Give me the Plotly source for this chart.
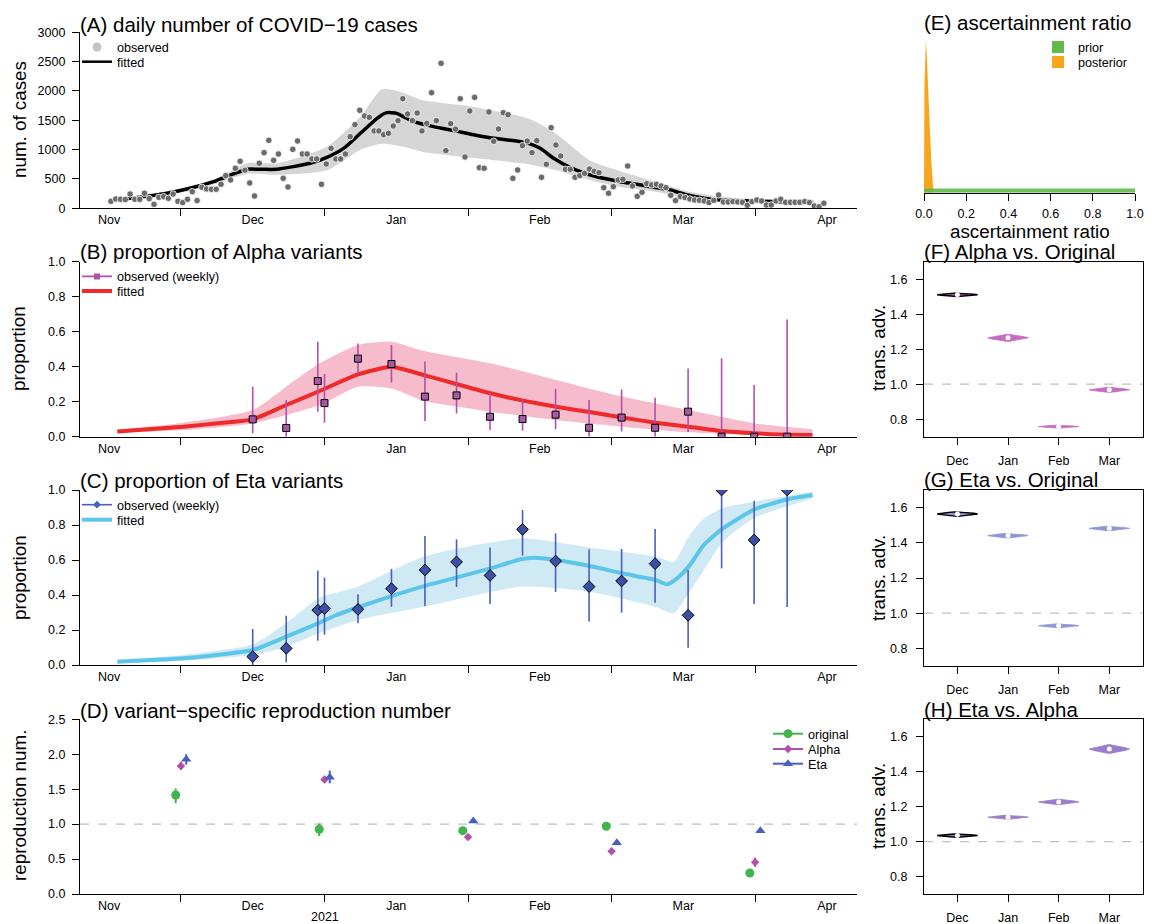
import plotly.graph_objects as go

W, H = 1155, 924
FONT = "Liberation Sans, Arial, sans-serif"

# ---------------- shared time axis (days) ----------------
month_labels = ["Nov", "Dec", "Jan", "Feb", "Mar", "Apr"]
month_label_days = [0, 30, 60, 90, 120, 150]
month_tick_days = [15, 45, 75, 105, 135]

# ---------------- (A) daily cases ----------------
case_first_day = 0.37
obs_cases = [
    119, 159, 153, 150, 244, 153, 153, 256, 165, 68,
    187, 199, 170, 244, 119, 97, 153, 284, 131, 358,
    330, 324, 324, 409, 557, 483, 682, 801, 650, 432,
    210, 767, 949, 1159, 818, 926, 511, 364, 1005, 1147,
    926, 926, 841, 841, 409, 755, 1022, 841, 841, 926,
    1221, 1426, 1670, 1573, 1551, 1318, 1318, 1255, 1278, 1403,
    1494, 1869, 1607, 1494, 1624, 1318, 1448, 1971, 1494, 2471,
    983, 1443, 1350, 1869, 875, 1659, 1891, 693, 682, 1642,
    1142, 1352, 1630, 1596, 511, 653, 1068, 1147, 949, 1153,
    528, 750, 1375, 1079, 892, 665, 665, 528, 557, 596,
    670, 630, 608, 352, 256, 369, 483, 494, 721, 381,
    204, 273, 420, 398, 409, 380, 352, 222, 131, 199,
    182, 159, 142, 136, 125, 97, 136, 227, 108, 108,
    114, 108, 102, 51, 114, 142, 125, 57, 57, 125,
    153, 102, 102, 102, 102, 114, 97, 40, 28, 85,
]
fit_days_a = [1.6, 7.2, 12.1, 16.9, 21.8, 26, 28.8, 31.6, 35, 38.5, 42, 45.5, 49, 52.5,
              56, 58, 60.1, 61.5, 63.6, 67.8, 72, 79, 86, 87.3, 90.1, 92.9, 96.4, 99.9,
              103.3, 106.8, 110.3, 113.8, 117.3, 120.8, 124.3, 127.7, 134.7, 141.7, 146.9]
fit_cases = [142, 199, 256, 341, 454, 585, 665, 665, 665, 710, 767, 869, 1022, 1278,
             1534, 1630, 1619, 1562, 1477, 1392, 1324, 1210, 1136, 1115, 1022, 852, 693, 585,
             511, 454, 409, 358, 312, 227, 170, 142, 125, 108, 97]
band_days_a = [1.6, 12, 22, 28.8, 35, 45.5, 52.5, 57, 60.8, 65.4, 75.9, 86.3, 88.4, 93.3,
               100.3, 107.2, 114.2, 121.2, 128.1, 135.1, 147.3]
band_hi_a = [165, 285, 490, 767, 767, 1051, 1562, 2028, 1988, 1846, 1732, 1562, 1505, 1278,
             824, 625, 454, 284, 199, 159, 142]
band_lo_a = [125, 230, 410, 590, 570, 650, 1000, 1100, 1060, 966, 860, 767, 740, 653,
             483, 358, 284, 170, 114, 85, 74]

# ---------------- (B)/(C) weekly variant proportions ----------------
week_days = [30, 37, 43.6, 45, 52, 59, 66, 72.6, 79.6, 86.4, 93.3, 100.3, 107.1, 114.1,
             121, 128, 134.8, 141.7]
alpha_obs = [0.099, 0.05, 0.318, 0.192, 0.446, 0.415, 0.229, 0.236, 0.114, 0.101, 0.126,
             0.051, 0.109, 0.051, 0.143, 0.0, 0.0, 0.0]
alpha_lo = [0.019, 0.0, 0.143, 0.08, 0.358, 0.309, 0.09, 0.133, 0.038, 0.034, 0.042,
            0.0, 0.029, 0.0, 0.027, 0.0, 0.0, 0.0]
alpha_hi = [0.286, 0.21, 0.543, 0.358, 0.533, 0.524, 0.43, 0.366, 0.248, 0.21, 0.272,
            0.21, 0.27, 0.223, 0.389, 0.448, 0.295, 0.67]
eta_obs = [0.048, 0.095, 0.314, 0.322, 0.318, 0.436, 0.543, 0.589, 0.512, 0.775, 0.594,
           0.448, 0.48, 0.579, 0.284, 1.0, 0.714, 1.0]
eta_lo = [0.0, 0.015, 0.139, 0.173, 0.238, 0.333, 0.337, 0.446, 0.349, 0.625, 0.417,
          0.248, 0.299, 0.356, 0.099, 0.552, 0.349, 0.331]
eta_hi = [0.206, 0.282, 0.539, 0.499, 0.404, 0.549, 0.737, 0.718, 0.672, 0.886, 0.752,
          0.661, 0.663, 0.777, 0.543, 1.0, 0.939, 1.0]

fit_days_b = [1.7, 15.5, 22.3, 30, 37, 44, 48, 52, 59, 65.8, 72.7, 79.7, 86.5, 93.4,
              100.4, 107.2, 114.2, 121.1, 128, 134.9, 141.8, 147]
alpha_fit = [0.03, 0.057, 0.076, 0.099, 0.181, 0.261, 0.31, 0.356, 0.4, 0.352, 0.30, 0.248,
             0.206, 0.171, 0.141, 0.11, 0.08, 0.057, 0.032, 0.019, 0.011, 0.01]
band_days_b = [1.7, 15.5, 30, 37, 44, 52, 59, 65.8, 79.7, 93.4, 107.2, 121.1, 134.9, 147]
alpha_band_hi = [0.04, 0.08, 0.152, 0.286, 0.419, 0.524, 0.543, 0.49, 0.419, 0.324, 0.229,
                 0.152, 0.076, 0.042]
alpha_band_lo = [0.022, 0.038, 0.076, 0.124, 0.181, 0.286, 0.276, 0.205, 0.143, 0.095,
                 0.057, 0.025, 0.01, 0.006]

fit_days_c = [1.7, 15.5, 30, 37, 44, 47, 52, 59, 65.8, 72.7, 79.7, 86, 88.8, 93.4, 100.4,
              107.2, 114.2, 116.6, 118.7, 121.1, 124.3, 128, 134.9, 141.8, 147]
eta_fit = [0.019, 0.038, 0.086, 0.162, 0.242, 0.28, 0.33, 0.394, 0.451, 0.501, 0.552, 0.604,
           0.613, 0.6, 0.566, 0.524, 0.486, 0.461, 0.495, 0.562, 0.686, 0.775, 0.89, 0.947, 0.971]
band_days_c = [1.7, 15.5, 30, 37, 43.8, 52, 65.8, 86.3, 100.3, 114.2, 118, 121.1, 124.3,
               128, 134.7, 147]
eta_band_hi = [0.03, 0.057, 0.118, 0.238, 0.381, 0.448, 0.62, 0.724, 0.672, 0.62, 0.59,
               0.733, 0.838, 0.895, 0.933, 0.99]
eta_band_lo = [0.012, 0.025, 0.057, 0.105, 0.181, 0.257, 0.333, 0.448, 0.419, 0.333, 0.295,
               0.41, 0.543, 0.695, 0.838, 0.952]

# ---------------- (D) reproduction numbers ----------------
r_days = [15, 45, 75, 105, 135]
r_orig = [1.417, 0.926, 0.906, 0.969, 0.30]
r_orig_lo = [1.30, 0.83, 0.87, 0.94, 0.28]
r_orig_hi = [1.51, 1.01, 0.94, 1.0, 0.32]
r_alpha = [1.832, 1.64, 0.816, 0.611, 0.453]
r_alpha_lo = [1.775, 1.59, 0.79, 0.59, 0.39]
r_alpha_hi = [1.894, 1.69, 0.84, 0.63, 0.52]
r_eta = [1.93, 1.67, 1.045, 0.735, 0.906]
r_eta_lo = [1.85, 1.584, 1.02, 0.71, 0.88]
r_eta_hi = [2.0, 1.765, 1.07, 0.76, 0.93]

# ---------------- (E) ascertainment ratio ----------------
prior_x = [0.0, 1.0]
prior_density = [1.0, 1.0]
post_x = [0.0, 0.002, 0.009, 0.015, 0.025, 0.035, 0.045]
post_density = [0.0, 25.0, 35.7, 30.0, 18.0, 7.0, 0.0]

# ---------------- (F)-(H) transmission advantage ----------------
adv_months = ["Dec", "Jan", "Feb", "Mar"]
adv_alpha_orig = [1.511, 1.265, 0.758, 0.968]
adv_alpha_orig_spread = [0.010, 0.021, 0.009, 0.015]
adv_eta_orig = [1.564, 1.441, 0.929, 1.482]
adv_eta_orig_spread = [0.014, 0.014, 0.012, 0.014]
adv_eta_alpha = [1.035, 1.140, 1.227, 1.530]
adv_eta_alpha_spread = [0.010, 0.012, 0.016, 0.026]

# ---------------- styling ----------------
C_GREEN = "#41b54b"
C_MAG = "#b44fab"
C_BLUE = "#4a5ec0"
C_RED = "#ee2a2a"
C_SKY = "#5cc6ea"


def px_x(p):
    return p / W


def px_y(p):
    return 1 - p / H


def dom_x(a, b):
    return [a / W, b / W]


def dom_y(top, bottom):
    return [1 - bottom / H, 1 - top / H]


fig = go.Figure()


def band(xs, lo, hi, color, xa, ya):
    fig.add_trace(go.Scatter(x=xs, y=lo, mode="lines", line=dict(width=0, shape="spline", smoothing=0.6),
                             showlegend=False, hoverinfo="skip", xaxis=xa, yaxis=ya))
    fig.add_trace(go.Scatter(x=xs, y=hi, mode="lines", line=dict(width=0, shape="spline", smoothing=0.6),
                             fill="tonexty", fillcolor=color, showlegend=False, hoverinfo="skip",
                             xaxis=xa, yaxis=ya))


def err(v, lo, hi):
    return dict(type="data", symmetric=False,
                array=[h - a for a, h in zip(v, hi)],
                arrayminus=[a - l for a, l in zip(v, lo)])


# ---- (A)
band(band_days_a, band_lo_a, band_hi_a, "#d5d5d5", "x", "y")
fig.add_trace(go.Scatter(x=fit_days_a, y=fit_cases, mode="lines",
                         line=dict(color="black", width=3.5, shape="spline", smoothing=0.6),
                         showlegend=False, xaxis="x", yaxis="y"))
fig.add_trace(go.Scatter(x=[case_first_day + i for i in range(len(obs_cases))], y=obs_cases,
                         mode="markers", marker=dict(size=6.5, color="#6b6b6b",
                                                     line=dict(color="white", width=0.8)),
                         showlegend=False, xaxis="x", yaxis="y"))
fig.add_trace(go.Scatter(x=[None], y=[None], mode="markers", name="observed",
                         marker=dict(size=9, color="#c4c4c4"), legend="legend", xaxis="x", yaxis="y"))
fig.add_trace(go.Scatter(x=[None], y=[None], mode="lines", name="fitted",
                         line=dict(color="black", width=2.5), legend="legend2", xaxis="x", yaxis="y"))

# ---- (B)
band(band_days_b, alpha_band_lo, alpha_band_hi, "#f6bccb", "x2", "y2")
fig.add_trace(go.Scatter(x=fit_days_b, y=alpha_fit, mode="lines",
                         line=dict(color=C_RED, width=4, shape="spline", smoothing=0.5),
                         showlegend=False, xaxis="x2", yaxis="y2"))
fig.add_trace(go.Scatter(x=week_days, y=alpha_obs, mode="markers",
                         marker=dict(symbol="square", size=7, color="#a45aa5",
                                     line=dict(color="black", width=1)),
                         error_y=dict(err(alpha_obs, alpha_lo, alpha_hi), color=C_MAG, thickness=1.6, width=0),
                         showlegend=False, xaxis="x2", yaxis="y2"))
fig.add_trace(go.Scatter(x=[None], y=[None], mode="lines+markers", name="observed (weekly)",
                         line=dict(color=C_MAG, width=1.6),
                         marker=dict(symbol="square", size=6, color=C_MAG),
                         legend="legend3", xaxis="x2", yaxis="y2"))
fig.add_trace(go.Scatter(x=[None], y=[None], mode="lines", name="fitted",
                         line=dict(color=C_RED, width=4), legend="legend4", xaxis="x2", yaxis="y2"))

# ---- (C)
band(band_days_c, eta_band_lo, eta_band_hi, "#cfe9f5", "x3", "y3")
fig.add_trace(go.Scatter(x=fit_days_c, y=eta_fit, mode="lines",
                         line=dict(color=C_SKY, width=4, shape="spline", smoothing=0.5),
                         showlegend=False, xaxis="x3", yaxis="y3"))
fig.add_trace(go.Scatter(x=week_days, y=eta_obs, mode="markers",
                         marker=dict(symbol="diamond", size=9, color="#3b4fa6",
                                     line=dict(color="black", width=1)),
                         error_y=dict(err(eta_obs, eta_lo, eta_hi), color=C_BLUE, thickness=1.6, width=0),
                         showlegend=False, xaxis="x3", yaxis="y3"))
fig.add_trace(go.Scatter(x=[None], y=[None], mode="lines+markers", name="observed (weekly)",
                         line=dict(color=C_BLUE, width=1.6),
                         marker=dict(symbol="diamond", size=6, color=C_BLUE),
                         legend="legend5", xaxis="x3", yaxis="y3"))
fig.add_trace(go.Scatter(x=[None], y=[None], mode="lines", name="fitted",
                         line=dict(color=C_SKY, width=4), legend="legend6", xaxis="x3", yaxis="y3"))

# ---- (D)
d_series = [
    ("original", r_orig, r_orig_lo, r_orig_hi, C_GREEN, "circle", 9, -1.1, "legend7"),
    ("Alpha", r_alpha, r_alpha_lo, r_alpha_hi, C_MAG, "diamond", 6.5, 0.0, "legend8"),
    ("Eta", r_eta, r_eta_lo, r_eta_hi, C_BLUE, "triangle-up", 9, 1.1, "legend9"),
]
for name, v, lo, hi, col, sym, sz, off, leg in d_series:
    fig.add_trace(go.Scatter(x=[d + off for d in r_days], y=v, mode="markers",
                             marker=dict(symbol=sym, size=sz, color=col),
                             error_y=dict(err(v, lo, hi), color=col, thickness=2, width=0),
                             showlegend=False, xaxis="x4", yaxis="y4"))
for name, v, lo, hi, col, sym, sz, off, leg in d_series:
    fig.add_trace(go.Scatter(x=[None], y=[None], mode="lines+markers", name=name,
                             line=dict(color=col, width=2),
                             marker=dict(symbol=sym, size=sz, color=col),
                             legend=leg, xaxis="x4", yaxis="y4"))

# ---- (E)
fig.add_trace(go.Scatter(x=post_x, y=post_density, mode="none", fill="tozeroy",
                         fillcolor="#f9a51b", showlegend=False, xaxis="x5", yaxis="y5"))
fig.add_trace(go.Scatter(x=prior_x, y=prior_density, mode="none", fill="tozeroy",
                         fillcolor="rgba(96,186,72,0.9)", showlegend=False, xaxis="x5", yaxis="y5"))
fig.add_trace(go.Scatter(x=[None], y=[None], mode="markers", name="prior",
                         marker=dict(symbol="square", size=12, color="#60ba48"),
                         legend="legend10", xaxis="x5", yaxis="y5"))
fig.add_trace(go.Scatter(x=[None], y=[None], mode="markers", name="posterior",
                         marker=dict(symbol="square", size=12, color="#f9a51b"),
                         legend="legend11", xaxis="x5", yaxis="y5"))

# ---- (F)-(H) violins
VIOLIN_T = [-1, -0.85, -0.6, -0.3, 0, 0.3, 0.6, 0.85, 1]
VIOLIN_P = [0.02, 0.15, 0.45, 0.8, 1, 0.8, 0.45, 0.15, 0.02]
VIOLIN_HALF_WIDTH = 0.4


def violins(meds, spreads, color, xa, ya):
    for i, (m, s) in enumerate(zip(meds, spreads)):
        pos = i + 1
        xs = [pos + VIOLIN_HALF_WIDTH * p for p in VIOLIN_P] + \
             [pos - VIOLIN_HALF_WIDTH * p for p in reversed(VIOLIN_P)]
        ys = [m + s * t for t in VIOLIN_T] + [m + s * t for t in reversed(VIOLIN_T)]
        border = "black" if i == 0 else color
        fig.add_trace(go.Scatter(x=xs, y=ys, mode="lines", fill="toself", fillcolor=color,
                                 line=dict(color=border, width=1.4 if i == 0 else 0.8),
                                 showlegend=False, hoverinfo="skip", xaxis=xa, yaxis=ya))
    fig.add_trace(go.Scatter(x=[i + 1 for i in range(len(meds))], y=meds, mode="markers",
                             marker=dict(size=5, color="white"), showlegend=False,
                             xaxis=xa, yaxis=ya))


violins(adv_alpha_orig, adv_alpha_orig_spread, "#c56cbf", "x6", "y6")
violins(adv_eta_orig, adv_eta_orig_spread, "#8c95d8", "x7", "y7")
violins(adv_eta_alpha, adv_eta_alpha_spread, "#9a7bcc", "x8", "y8")

# ---------------- axes ----------------
TICKFONT = dict(family=FONT, size=12.5, color="black")
LINE = dict(showline=True, linecolor="black", linewidth=1.2, showgrid=False, zeroline=False,
            automargin=False)


def month_x(top, bottom, anchor):
    return dict(domain=dom_x(80, 857), anchor=anchor, range=[-6.1, 156.3],
                tickmode="array", tickvals=month_label_days, ticktext=month_labels,
                ticks="", tickfont=TICKFONT,
                minor=dict(tickmode="array", tickvals=month_tick_days, ticks="outside",
                           ticklen=7, tickwidth=1.2, tickcolor="black", showgrid=False),
                **LINE)


def left_y(top, bottom, anchor, rng, vals, fmt):
    return dict(domain=dom_y(top, bottom), anchor=anchor, range=rng, tickmode="array",
                tickvals=vals, tickformat=fmt, ticks="outside", ticklen=7, tickwidth=1.2,
                tickcolor="black", tickfont=TICKFONT, ticklabelstandoff=4, **LINE)


def box_x(top, bottom, anchor):
    return dict(domain=dom_x(924, 1142.7), anchor=anchor, range=[0.34, 4.66], tickmode="array",
                tickvals=[1, 2, 3, 4], ticktext=adv_months, ticks="outside", ticklen=7,
                tickwidth=1.2, tickcolor="black", tickfont=TICKFONT, ticklabelstandoff=5,
                mirror=True, **LINE)


def box_y(top, bottom, anchor):
    return dict(domain=dom_y(top, bottom), anchor=anchor, range=[0.70, 1.70], tickmode="array",
                tickvals=[0.8, 1.0, 1.2, 1.4, 1.6], tickformat=".1f", ticks="outside", ticklen=7,
                tickwidth=1.2, tickcolor="black", tickfont=TICKFONT, ticklabelstandoff=6,
                mirror=True, **LINE)


panels = {
    "A": (32.3, 208.3), "B": (261.7, 436.7), "C": (490, 665), "D": (719.3, 894),
}

layout = dict(
    width=W, height=H, margin=dict(l=0, r=0, t=0, b=0, pad=0, autoexpand=False),
    paper_bgcolor="white", plot_bgcolor="white",
    font=dict(family=FONT, color="black"),
    xaxis=month_x(*panels["A"], "y"),
    yaxis=left_y(*panels["A"], "x", [0, 3000], [0, 500, 1000, 1500, 2000, 2500, 3000], "d"),
    xaxis2=month_x(*panels["B"], "y2"),
    yaxis2=left_y(*panels["B"], "x2", [0, 1], [0, 0.2, 0.4, 0.6, 0.8, 1.0], ".1f"),
    xaxis3=month_x(*panels["C"], "y3"),
    yaxis3=left_y(*panels["C"], "x3", [0, 1], [0, 0.2, 0.4, 0.6, 0.8, 1.0], ".1f"),
    xaxis4=month_x(*panels["D"], "y4"),
    yaxis4=left_y(*panels["D"], "x4", [0, 2.5], [0, 0.5, 1.0, 1.5, 2.0, 2.5], ".1f"),
    xaxis5=dict(domain=dom_x(924, 1135), anchor="y5", range=[0, 1], tickmode="array",
                tickvals=[0, 0.2, 0.4, 0.6, 0.8, 1.0], tickformat=".1f", ticks="outside",
                ticklen=7, tickwidth=1.2, tickcolor="black", tickfont=TICKFONT,
                ticklabelstandoff=2, **LINE),
    yaxis5=dict(domain=dom_y(35, 192.7), anchor="x5", range=[0, 36.7], visible=False),
    xaxis6=box_x(261.7, 436.7, "y6"), yaxis6=box_y(261.7, 436.7, "x6"),
    xaxis7=box_x(490, 666, "y7"), yaxis7=box_y(490, 666, "x7"),
    xaxis8=box_x(719.3, 894, "y8"), yaxis8=box_y(719.3, 894, "x8"),
)

# one legend box per legend row so rows sit as tightly as in the reference
LEG = dict(bgcolor="rgba(0,0,0,0)", font=dict(family=FONT, size=12.6, color="black"),
           xanchor="left", yanchor="middle", itemwidth=30, tracegroupgap=0,
           traceorder="normal")
legend_rows = {
    "legend": (77, 47.3), "legend2": (77, 62.0),
    "legend3": (77, 276.7), "legend4": (77, 291.3),
    "legend5": (77, 505.0), "legend6": (77, 520.0),
    "legend7": (768, 734.0), "legend8": (768, 749.3), "legend9": (768, 764.0),
    "legend10": (1038, 47.3), "legend11": (1038, 62.3),
}
for key, (lx, ly) in legend_rows.items():
    layout[key] = dict(LEG, x=px_x(lx), y=px_y(ly))

fig.update_layout(**layout)

# dashed reference lines at 1.0
for ax in ["4", "6", "7", "8"]:
    fig.add_shape(type="line", xref=f"x{ax} domain", x0=0, x1=1, yref=f"y{ax}", y0=1, y1=1,
                  line=dict(color="#c0c0c0", width=1.2, dash="dash"), layer="below")

# titles
TITLE = dict(family=FONT, size=20.5, color="black")
AXT = dict(family=FONT, size=18.8, color="black")
titles = [
    ("(A) daily number of COVID\u221219 cases", 78, 25),
    ("(B) proportion of Alpha variants", 78, 252),
    ("(C) proportion of Eta variants", 78, 480.5),
    ("(D) variant\u2212specific reproduction number", 78, 710),
    ("(E) ascertainment ratio", 922, 23),
    ("(F) Alpha vs. Original", 922, 251),
    ("(G) Eta vs. Original", 922, 480),
    ("(H) Eta vs. Alpha", 922, 709.5),
]
for txt, x, y in titles:
    fig.add_annotation(text=txt, x=px_x(x), y=px_y(y), xref="paper", yref="paper",
                       xanchor="left", yanchor="middle", showarrow=False, font=TITLE)

axis_titles = [
    ("num. of cases", 19, 120),
    ("proportion", 19, 349),
    ("proportion", 19, 578),
    ("reproduction num.", 19, 806),
    ("trans. adv.", 878, 348),
    ("trans. adv.", 878, 578),
    ("trans. adv.", 878, 806),
]
for txt, x, y in axis_titles:
    fig.add_annotation(text=txt, x=px_x(x), y=px_y(y), xref="paper", yref="paper",
                       xanchor="center", yanchor="middle", textangle=-90, showarrow=False, font=AXT)

fig.add_annotation(text="ascertainment ratio", x=px_x(1029.5), y=px_y(231.5), xref="paper",
                   yref="paper", xanchor="center", yanchor="middle", showarrow=False, font=AXT)
fig.add_annotation(text="2021", x=px_x(325), y=px_y(917), xref="paper", yref="paper",
                   xanchor="center", yanchor="middle", showarrow=False, font=TICKFONT)

# the page's default 8px body margin would push the figure off the window
fig.write_html("out.html", config={"displayModeBar": False},
               post_script="document.body.style.margin='0px';")
